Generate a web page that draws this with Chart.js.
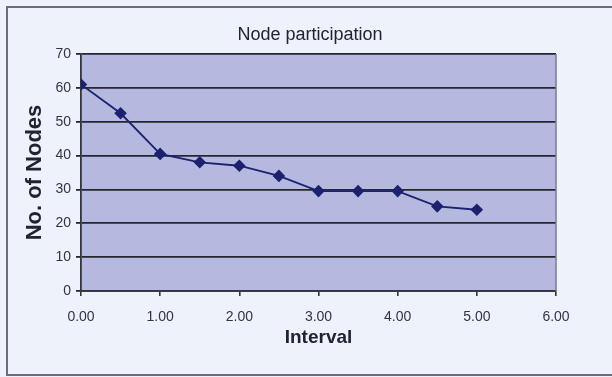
<!DOCTYPE html>
<html>
<head>
<meta charset="utf-8">
<script src="https://cdn.jsdelivr.net/npm/chart.js@4.4.1/dist/chart.umd.min.js"></script>
<style>
  html, body { margin: 0; padding: 0; background: #eef3fb; }
  #wrap { width: 612px; height: 377px; position: relative; }
</style>
</head>
<body>
<div id="wrap"><canvas id="c" width="612" height="377"></canvas></div>
<script>
const intervals = [0, 0.5, 1, 1.5, 2, 2.5, 3, 3.5, 4, 4.5, 5];
const nodes = [61, 52.5, 40.5, 38, 37, 34, 29.5, 29.5, 29.5, 25, 24];
const xTicks = [0, 1, 2, 3, 4, 5, 6];
const yTicks = [0, 10, 20, 30, 40, 50, 60, 70];

const FONT = "'Liberation Sans', Arial, sans-serif";

const framePlugin = {
  id: 'frame',
  afterLayout(chart) {
    const t = chart.titleBlock;
    if (t) { t.left = 0; t.right = 620; t.width = 620; }
  },
  beforeDraw(chart) {
    const ctx = chart.ctx;
    const a = chart.chartArea;
    ctx.save();
    ctx.fillStyle = '#eef3fb';
    ctx.fillRect(0, 0, chart.width, chart.height);
    ctx.strokeStyle = '#6e6a86';
    ctx.lineWidth = 2;
    ctx.strokeRect(7, 7, chart.width + 20, chart.height - 9);
    ctx.fillStyle = '#b5b9e0';
    ctx.fillRect(a.left, a.top, a.right - a.left, a.bottom - a.top);
    ctx.restore();
  },
  beforeDatasetsDraw(chart) {
    const ctx = chart.ctx;
    const a = chart.chartArea;
    ctx.save();
    ctx.strokeStyle = '#7a7a8e';
    ctx.lineWidth = 1.5;
    ctx.beginPath();
    ctx.moveTo(a.right, a.top);
    ctx.lineTo(a.right, a.bottom);
    ctx.stroke();
    ctx.restore();
  }
};

new Chart(document.getElementById('c'), {
  type: 'line',
  data: {
    datasets: [{
      data: intervals.map((x, i) => ({ x: x, y: nodes[i] })),
      borderColor: '#1c2170',
      backgroundColor: '#1c2170',
      borderWidth: 1.8,
      pointStyle: 'rectRot',
      pointRadius: 5,
      pointHoverRadius: 5,
      tension: 0,
      fill: false
    }]
  },
  options: {
    responsive: false,
    animation: false,
    devicePixelRatio: 1,
    layout: { padding: { left: 0, right: 56, top: 0, bottom: 0 } },
    plugins: {
      legend: { display: false },
      tooltip: { enabled: false },
      title: {
        display: true,
        text: 'Node participation',
        color: '#222233',
        font: { family: FONT, size: 18, weight: 'normal' },
        padding: { top: 24, bottom: 8.4 }
      }
    },
    scales: {
      x: {
        type: 'linear',
        min: 0,
        max: 6,
        afterBuildTicks(scale) { scale.ticks = xTicks.map(v => ({ value: v })); },
        afterFit(scale) { scale.height = 86; },
        ticks: {
          color: '#333344',
          font: { family: FONT, size: 14 },
          padding: 13,
          maxRotation: 0,
          callback: v => Number(v).toFixed(2)
        },
        grid: { drawOnChartArea: false, drawTicks: true, tickLength: 5, color: '#34343f', lineWidth: 1.6 },
        border: { display: true, color: '#34343f', width: 1.8 },
        title: {
          display: true,
          text: 'Interval',
          color: '#222233',
          font: { family: FONT, size: 19, weight: 'bold' },
          padding: { top: 0, bottom: 28 }
        }
      },
      y: {
        min: 0,
        max: 70,
        afterBuildTicks(scale) { scale.ticks = yTicks.map(v => ({ value: v })); },
        afterFit(scale) { scale.width = 81; },
        ticks: {
          color: '#333344',
          font: { family: FONT, size: 14 },
          padding: 5
        },
        grid: { drawOnChartArea: true, drawTicks: true, tickLength: 5, color: '#262630', lineWidth: 1.8 },
        border: { display: true, color: '#34343f', width: 1.8 },
        title: {
          display: true,
          text: 'No. of Nodes',
          color: '#222233',
          font: { family: FONT, size: 22, weight: 'bold' },
          padding: { top: 21.3, bottom: 0 }
        }
      }
    }
  },
  plugins: [framePlugin]
});
</script>
</body>
</html>
